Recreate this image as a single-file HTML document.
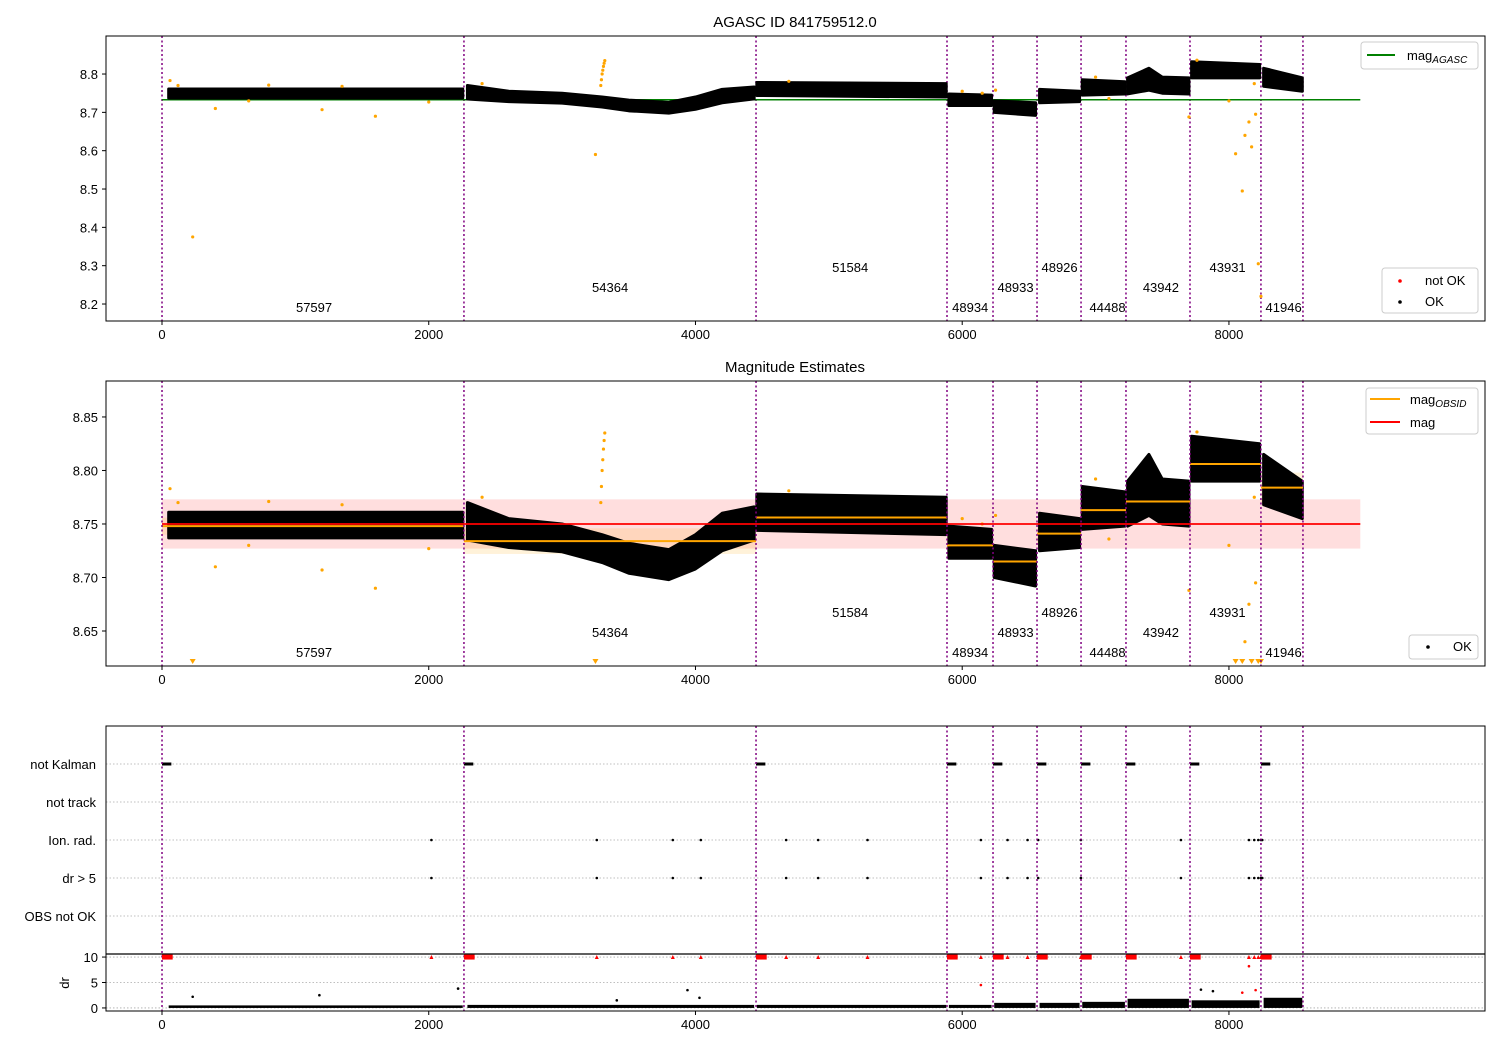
<!DOCTYPE html>
<html><head><meta charset="utf-8"><style>
body{margin:0;background:#fff}
svg text{font-family:"Liberation Sans","DejaVu Sans",sans-serif;fill:#000}
</style></head><body>
<svg id="c" width="1500" height="1050" xmlns="http://www.w3.org/2000/svg"></svg>
<script>
// ---- data ----
const obsStarts = [0, 2264, 4454, 5886, 6231, 6561, 6891, 7228, 7708, 8240, 8555];
const obsIds = ["57597","54364","51584","48934","48933","48926","44488","43942","43931","41946"];
const obsLabelX = [1140, 3360, 5160, 6060, 6400, 6730, 7090, 7490, 7990, 8410];
const obsMeans = [8.748, 8.734, 8.756, 8.730, 8.715, 8.741, 8.763, 8.771, 8.806, 8.784];
const obsErr = [0.008, 0.012, 0.008, 0.010, 0.010, 0.010, 0.010, 0.012, 0.008, 0.014];
const magAgasc = 8.733;
const magMean = 8.750;
const magErr = 0.023;
const bandX = [[50,2255],[2290,2600,3000,3300,3500,3800,4000,4200,4440],[4460,5880],[5900,6220],[6240,6550],[6580,6880],[6900,7220],[7240,7400,7500,7700],[7720,8230],[8260,8550]];
const bandLo = [[8.737,8.737],[8.735,8.728,8.724,8.714,8.704,8.698,8.708,8.725,8.735],[8.744,8.740],[8.718,8.718],[8.700,8.692],[8.725,8.728],[8.745,8.748],[8.748,8.758,8.750,8.748],[8.790,8.790],[8.768,8.755]];
const bandHi = [[8.761,8.761],[8.770,8.755,8.750,8.740,8.732,8.726,8.740,8.760,8.766],[8.778,8.775],[8.748,8.745],[8.730,8.725],[8.760,8.755],[8.785,8.780],[8.790,8.815,8.792,8.790],[8.832,8.825],[8.815,8.790]];
const outX = [60,120,230,400,650,800,1200,1350,1600,2000,2400,3250,3290,3295,3300,3305,3310,3315,3320,4700,6000,6150,6250,7000,7100,7700,7760,8000,8050,8100,8120,8150,8170,8190,8200,8220,8240];
const outY = [8.783,8.770,8.375,8.710,8.730,8.771,8.707,8.768,8.690,8.727,8.775,8.590,8.770,8.785,8.800,8.810,8.820,8.828,8.835,8.781,8.755,8.750,8.758,8.792,8.736,8.688,8.836,8.730,8.592,8.495,8.640,8.675,8.610,8.775,8.695,8.305,8.220];
const flagRows = ["not Kalman","not track","Ion. rad.","dr > 5","OBS not OK"];
const ionX = [2020,3260,3830,4040,4680,4920,5290,6140,6340,6490,6570,6890,7640,8150,8190,8220,8240,8250];
const drLowX = [[50,2255],[2290,4440],[4460,5880],[5900,6220],[6240,6550],[6580,6880],[6900,7220],[7240,7700],[7720,8230],[8260,8550]];
const drLowHi = [0.5,0.6,0.6,0.6,1.0,1.0,1.2,1.8,1.5,2.0];
const drScatX = [230,1180,2220,3940,4030,7790,7880,8100,8150,8200,6140,3410];
const drScatY = [2.2,2.5,3.8,3.5,2.0,3.6,3.3,3.0,8.2,3.5,4.5,1.5];

// ---- helpers ----
const svg = document.getElementById('c');
const NS = 'http://www.w3.org/2000/svg';
function mk(tag, attrs, parent){const e=document.createElementNS(NS,tag);for(const k in attrs)e.setAttribute(k,attrs[k]);(parent||svg).appendChild(e);return e;}
const X0=106,X1=1485,XMIN=-420,XMAX=9920;
const sx = v => X0 + (v-XMIN)/(XMAX-XMIN)*(X1-X0);
function yScale(top,bot,vmin,vmax){return v => bot - (v-vmin)/(vmax-vmin)*(bot-top);}
const y1 = yScale(36,321,8.1557,8.8992);
const y2 = yScale(381,666,8.6173,8.8836);
const yd = yScale(954,1011,-0.6,10.6);

function frame(top,bot,name){
  const r=mk('rect',{x:X0,y:top,width:X1-X0,height:bot-top,fill:'none',stroke:'#000','stroke-width':1});
  
  
}
function xTicks(bot,name){
  const g=mk('g',{});
  
  
  [0,2000,4000,6000,8000].forEach(v=>{
    mk('line',{x1:sx(v),x2:sx(v),y1:bot,y2:bot+4,stroke:'#000'},g);
    const t=mk('text',{x:sx(v),y:bot+18,'text-anchor':'middle','font-size':13},g);t.textContent=v;
  });
}
function yTicks(vals,ys,labels,name){
  const g=mk('g',{});
  
  
  vals.forEach((v,i)=>{
    mk('line',{x1:X0-4,x2:X0,y1:ys(v),y2:ys(v),stroke:'#000'},g);
    const t=mk('text',{x:X0-8,y:ys(v)+5,'text-anchor':'end','font-size':13},g);t.textContent=labels[i];
  });
}
function vlines(top,bot){
  obsStarts.forEach(v=>{
    const l=mk('line',{x1:sx(v),x2:sx(v),y1:top,y2:bot,stroke:'#800080','stroke-width':1.5,'stroke-dasharray':'2,2.5'});
    
    
  });
}
function bands(ys){
  bandX.forEach((xs,i)=>{
    let pts=xs.map((x,j)=>sx(x)+','+ys(bandHi[i][j]));
    pts=pts.concat(xs.map((x,j)=>sx(x)+','+ys(bandLo[i][j])).reverse());
    const p=mk('polygon',{points:pts.join(' '),fill:'#000',stroke:'#000','stroke-width':3,'stroke-linejoin':'round'});
    
    
  });
}

// ---- panel 1 ----
const t1=mk('text',{x:795,y:27,'text-anchor':'middle','font-size':15});t1.textContent='AGASC ID 841759512.0';


vlines(36,321);
const gl=mk('line',{x1:sx(0),x2:sx(8985),y1:y1(magAgasc),y2:y1(magAgasc),stroke:'#008000','stroke-width':1.5});


bands(y1);
outX.forEach((x,i)=>{
  const c=mk('circle',{cx:sx(x),cy:y1(outY[i]),r:1.6,fill:'orange'});
  
  
});
(function(){const rows=[2,1,0,2,1,0,2,1,0,2];const yy=[267,287,307];
obsIds.forEach((id,i)=>{const t=mk('text',{x:sx(obsLabelX[i]),y:yy[rows[i]]+5,'text-anchor':'middle','font-size':13});t.textContent=id;

});})();
frame(36,321,'agasc-axes');
xTicks(321,'x-axis-1');
yTicks([8.2,8.3,8.4,8.5,8.6,8.7,8.8],y1,['8.2','8.3','8.4','8.5','8.6','8.7','8.8'],'y-axis-1');
(function(){
 const g=mk('g',{});
 mk('rect',{x:1361,y:42,width:117,height:27,rx:3,fill:'#fff',stroke:'#ccc'},g);
 mk('line',{x1:1367,x2:1395,y1:55,y2:55,stroke:'#008000','stroke-width':2},g);
 const t=mk('text',{x:1407,y:60,'font-size':13},g);t.innerHTML='mag<tspan font-size="10" font-style="italic" dy="3">AGASC</tspan>';
 const g2=mk('g',{});
 mk('rect',{x:1382,y:268,width:96,height:45,rx:3,fill:'#fff',stroke:'#ccc'},g2);
 mk('circle',{cx:1400,cy:281,r:1.8,fill:'red'},g2);
 mk('circle',{cx:1400,cy:302,r:1.8,fill:'#000'},g2);
 const a=mk('text',{x:1425,y:285,'font-size':13},g2);a.textContent='not OK';
 const b=mk('text',{x:1425,y:306,'font-size':13},g2);b.textContent='OK';
})();

// ---- panel 2 ----
const t2=mk('text',{x:795,y:372,'text-anchor':'middle','font-size':15});t2.textContent='Magnitude Estimates';


const pb=mk('rect',{x:sx(0),y:y2(magMean+magErr),width:sx(8985)-sx(0),height:y2(magMean-magErr)-y2(magMean+magErr),fill:'#ffdede'});


obsMeans.forEach((m,i)=>{
  const r=mk('rect',{x:sx(obsStarts[i]),y:y2(m+obsErr[i]),width:sx(obsStarts[i+1])-sx(obsStarts[i]),height:y2(m-obsErr[i])-y2(m+obsErr[i]),fill:'rgba(255,165,0,0.15)'});
  
  
});
bands(y2);
outX.forEach((x,i)=>{
  const v=outY[i];
  if(v<8.617){
    const X=sx(x),Y=664;
    const p=mk('polygon',{points:`${X-3},${Y-5} ${X+3},${Y-5} ${X},${Y}`,fill:'orange'});
    
    
  } else {
    const c=mk('circle',{cx:sx(x),cy:y2(v),r:1.6,fill:'orange'});
    
    
  }
});
obsMeans.forEach((m,i)=>{
  const l=mk('line',{x1:sx(obsStarts[i]),x2:sx(obsStarts[i+1]),y1:y2(m),y2:y2(m),stroke:'orange','stroke-width':2});
  
  
});
const rl=mk('line',{x1:sx(0),x2:sx(8985),y1:y2(magMean),y2:y2(magMean),stroke:'red','stroke-width':1.8});


vlines(381,666);
(function(){const rows=[2,1,0,2,1,0,2,1,0,2];const yy=[612,632,652];
obsIds.forEach((id,i)=>{const t=mk('text',{x:sx(obsLabelX[i]),y:yy[rows[i]]+5,'text-anchor':'middle','font-size':13});t.textContent=id;

});})();
frame(381,666,'magnitude-axes');
xTicks(666,'x-axis-2');
yTicks([8.65,8.70,8.75,8.80,8.85],y2,['8.65','8.70','8.75','8.80','8.85'],'y-axis-2');
(function(){
 const g=mk('g',{});
 mk('rect',{x:1366,y:388,width:112,height:46,rx:3,fill:'#fff',stroke:'#ccc'},g);
 mk('line',{x1:1370,x2:1400,y1:399,y2:399,stroke:'orange','stroke-width':2},g);
 mk('line',{x1:1370,x2:1400,y1:422,y2:422,stroke:'red','stroke-width':2},g);
 const a=mk('text',{x:1410,y:404,'font-size':13},g);a.innerHTML='mag<tspan font-size="10" font-style="italic" dy="3">OBSID</tspan>';
 const b=mk('text',{x:1410,y:427,'font-size':13},g);b.textContent='mag';
 const g2=mk('g',{});
 mk('rect',{x:1409,y:635,width:69,height:24,rx:3,fill:'#fff',stroke:'#ccc'},g2);
 mk('circle',{cx:1428,cy:647,r:1.8,fill:'#000'},g2);
 const c=mk('text',{x:1453,y:651,'font-size':13},g2);c.textContent='OK';
})();

// ---- panel 3 flags ----
const flagY=[764,802,840,878,916];
flagRows.forEach((n,i)=>{
  mk('line',{x1:X0,x2:X1,y1:flagY[i],y2:flagY[i],stroke:'#aaa','stroke-width':0.8,'stroke-dasharray':'1.5,2'});
  const t=mk('text',{x:X0-10,y:flagY[i]+5,'text-anchor':'end','font-size':13});t.textContent=n;
  
  
});
obsStarts.slice(0,10).forEach(s=>{
  const r=mk('rect',{x:sx(s),y:flagY[0]-1.5,width:sx(s+70)-sx(s),height:3,fill:'#000'});
  
  
});
ionX.forEach(x=>{
  [2,3].forEach(k=>{
    const c=mk('circle',{cx:sx(x),cy:flagY[k],r:1.3,fill:'#000'});
    
    
  });
});
vlines(726,1011);
frame(726,954,'flags-axes');
[0,5,10].forEach(v=>mk('line',{x1:X0,x2:X1,y1:yd(v),y2:yd(v),stroke:'#aaa','stroke-width':0.8,'stroke-dasharray':'1.5,2'}));
drLowX.forEach((xs,i)=>{
  const r=mk('rect',{x:sx(xs[0]),y:yd(drLowHi[i]),width:sx(xs[1])-sx(xs[0]),height:yd(0)-yd(drLowHi[i]),fill:'#000'});
  
  
});
drScatX.forEach((x,i)=>{
  const c=mk('circle',{cx:sx(x),cy:yd(drScatY[i]),r:1.3,fill:i>=7&&i<=10?'red':'#000'});
  
  
});
obsStarts.slice(0,10).forEach(s=>{
  const r=mk('rect',{x:sx(s),y:yd(10)-2.5,width:sx(s+80)-sx(s),height:5,fill:'red'});
  
  
});
ionX.forEach(x=>{
  const p=mk('polygon',{points:`${sx(x)-2},${yd(10)+2} ${sx(x)+2},${yd(10)+2} ${sx(x)},${yd(10)-2}`,fill:'red'});
  
  
});
frame(954,1011,'dr-axes');
mk('line',{x1:X0,x2:X1,y1:954,y2:954,stroke:'#000','stroke-width':1.2});
xTicks(1011,'x-axis-3');
yTicks([0,5,10],yd,['0','5','10'],'y-axis-dr');
const dl=mk('text',{x:0,y:0,'font-size':13,'text-anchor':'middle',transform:'translate(69,983) rotate(-90)'});dl.textContent='dr';


</script>
</body></html>
